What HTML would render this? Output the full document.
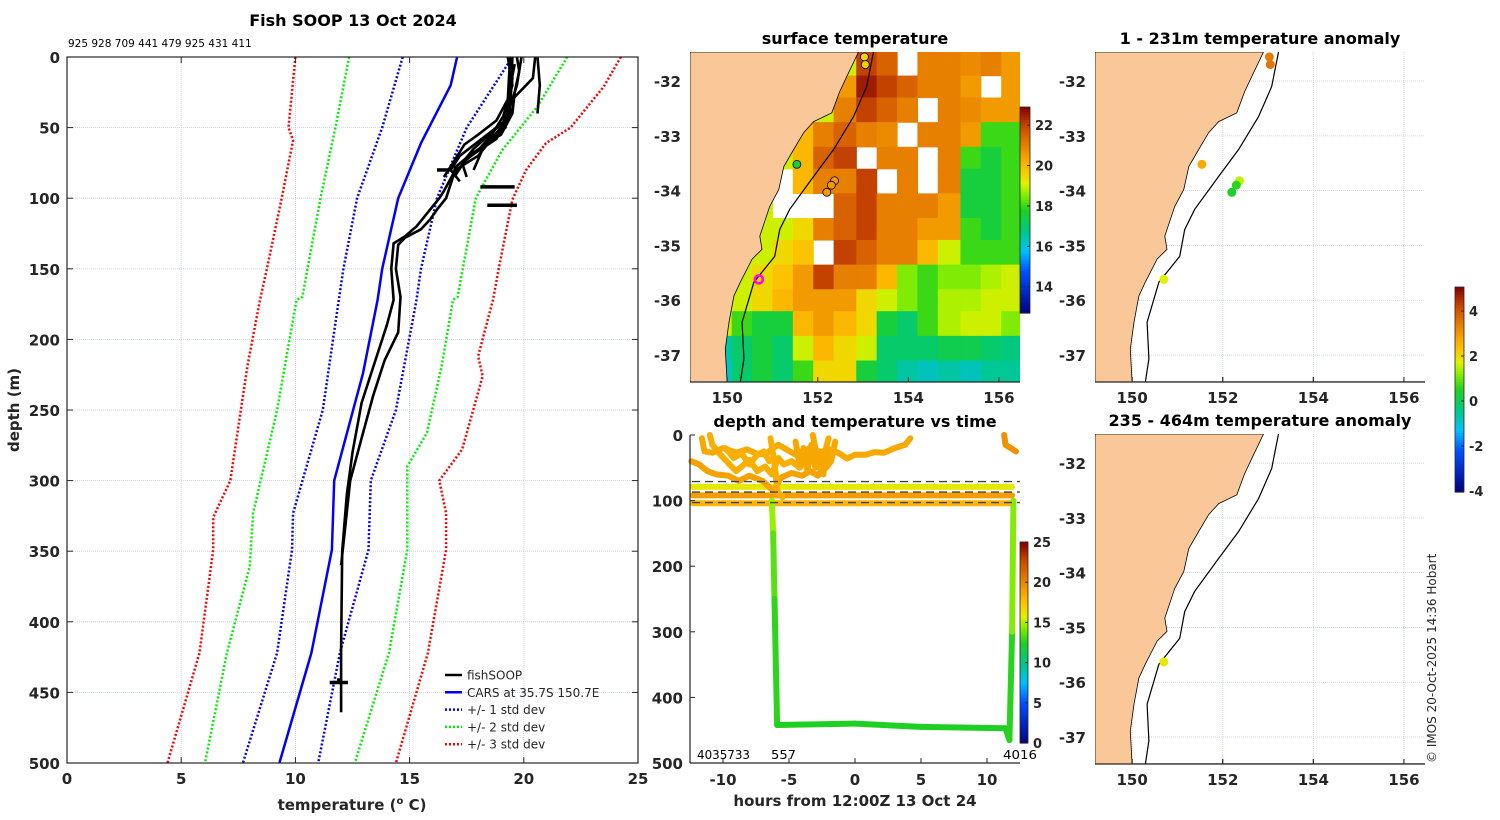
<!DOCTYPE html>
<html><head><meta charset="utf-8"><style>
body{margin:0;background:#fff}
svg{display:block;font-family:"DejaVu Sans","Liberation Sans",sans-serif}
.t{font-weight:bold;font-size:16px}
.tk{font-weight:bold;font-size:15px;fill:#262626}
</style></head><body>
<svg id="fig" width="1500" height="820" viewBox="0 0 1500 820" xmlns="http://www.w3.org/2000/svg">
<g id="g"></g>
</svg>
<script>
// ---------- DATA ----------
const carsT=[17.08,16.8,15.5,14.5,13.8,13.6,12.96,11.7,11.6,10.7,9.3];
const carsD=[0,20,61,100,150,172,224,300,349,422,500];
const sd1LoT=[14.7,13.8,12.7,12.1,11.9,11.2,9.9,9.85,9.2,7.7];
const sd1LoD=[0,50,100,150,172,250,323,349,422,500];
const sd1HiT=[19.5,17.5,16.2,15.5,15.3,14.4,13.3,13.2,11.95,11.0];
const sd1HiD=[0,50,100,150,172,250,300,349,422,500];
const sd2LoT=[12.35,11.75,11.1,10.3,10.05,9.2,8.15,8.0,7.0,6.04];
const sd2LoD=[0,50,100,170,172,250,323,361,422,500];
const sd2HiT=[21.9,20.6,19.05,17.9,17.1,16.9,16.4,15.76,14.9,14.9,14.1,12.6];
const sd2HiD=[0,35,66,100,170,172,219,266,290,349,422,500];
const sd3LoT=[10.0,9.7,9.9,9.4,8.75,8.45,7.9,7.15,6.4,6.4,5.8,4.4];
const sd3LoD=[0,50,59,100,150,172,219,300,326,349,422,500];
const sd3HiT=[24.25,23.5,22.05,20.97,20.1,19.5,18.9,18.65,18.0,18.2,17.3,16.3,16.6,16.6,15.8,14.4];
const sd3HiD=[0,21,50,61,80,101,150,172,212,226,278,300,323,349,422,500];
const deep1T=[19.4,19.3,19.2,18.5,18.0,17.0,16.5,16.3,15.8,15.3,14.8,14.3,14.2,14.3,14.0,13.5,12.9,12.5,12.25,12.05,12.0,12.0];
const deep1D=[0,30,50,60,70,80,95,100,110,120,127,132,150,172,190,215,245,280,310,350,420,464];
const deep2T=[19.5,19.4,18.8,17.5,16.9,16.6,16.2,15.9,15.5,14.8,14.5,14.4,14.6,14.5,13.9,13.4,12.9,12.4,12.1,12.0];
const deep2D=[0,40,58,72,85,100,108,115,122,128,133,150,170,195,215,240,270,300,345,360];
const sh1T=[19.7,19.8,19.6,19.5,19.0,18.3,17.6,17.0,16.8], sh1D=[0,10,25,40,55,62,70,78,90];
const sh2T=[19.4,19.5,19.4,19.2,18.5,17.8,17.3,17.5], sh2D=[0,15,30,45,55,65,75,85];
const sh3T=[19.6,19.3,18.8,18.0,17.4,16.9,16.5], sh3D=[5,30,45,55,62,75,85];
const sh4T=[20.5,20.4,19.5,19.0,18.2,17.8], sh4D=[0,15,30,50,65,80];
const sh5T=[20.6,20.7,20.6], sh5D=[0,20,40];
const sh6T=[19.9,19.7,19.2,18.0,17.2,16.8,17.2], sh6D=[0,20,45,60,70,80,88];
const sh7T=[19.3,19.5,19.1,18.6,18.0,17.4,17.0], sh7D=[0,20,42,55,66,74,84];
const segT0=[18.1,18.4,16.2], segT1=[19.6,19.7,16.8], segD=[92,105,80];
// time panel
const trAh=[-11.6,-11.4,-10.8,-10,-9,-8.2,-7.5,-6.8,-6.2,-5.8,-5.2,-4.5,-3.8,-3.2,-2.8,-2.4,-1.8,-1.2,-0.6,0,0.8,1.5,2.2,3,3.8,4.2];
const trAd=[5,25,27,20,27,22,28,30,20,15,22,30,27,15,35,25,22,28,36,30,30,26,27,20,15,5];
const trBh=[-11,-10.8,-10.2,-9.5,-9,-8.4,-8,-7.4,-6.8,-6.3,-5.8,-5.4,-4.8,-4.2,-3.5,-2.8,-2.2,-2];
const trBd=[0,15,30,45,55,45,38,55,48,60,35,45,40,50,35,45,20,5];
const trCh=[-12.4,-11.8,-11.2,-10.5,-9.6,-8.8,-8,-7,-6.2,-5.6,-4.8,-4,-3.4,-2.8,-2.2,-1.8];
const trCd=[40,45,55,60,62,70,62,70,85,65,58,62,55,62,42,30];
const trDh=[-6.4,-6.2,-6,-5.9,-5.5], trDd=[5,30,60,85,95];
const trEh=[-3.2,-3,-2.8,-2.5,-2.2,-1.8,-1.5], trEd=[0,20,40,55,50,40,10];
const trFh=[11.3,11.4,11.8,12.2], trFd=[0,15,20,25];
const trGh=[-4.5,-4.2,-3.9,-3.6,-3.3,-3.0,-2.7,-2.4,-2.1], trGd=[10,45,20,55,15,50,25,60,20];
const trHh=[-9.8,-9.2,-8.6,-8,-7.4,-6.9,-6.5], trHd=[20,35,28,45,30,25,40];
const bandD=[79,92,104], bandTemp=[16,19,18];
const dashD=[71,87,103];
const deepH=[-6.3,-6.2,-6.1,-5.9,0,5,11.4,11.7,11.9,12.0], deepD=[100,150,250,442,440,445,447,465,300,100];
const deepTemp=[15.2,14,13,12.5,12.4,12.4,12.4,12.3,13,15.5];
// SST grid (north->south rows, west->east cols), 0 = cloud
const sstLon=[149.4,149.9,150.3,150.8,151.2,151.7,152.1,152.6,153.1,153.5,154.0,154.4,154.9,155.4,155.8,156.3];
const sstLat=[-31.7,-32.1,-32.5,-33.0,-33.4,-33.8,-34.3,-34.7,-35.1,-35.6,-36.0,-36.4,-36.9,-37.3];
const sstVal=[
[19,19,19,19,19,19,19,19,22,21.5,0,21,21,20.8,21,20.5],
[19,19,19,19,19,19,19,20.5,22.5,22,21.5,21,21,20.5,0,20.5],
[19,19,19,19,19,19,19,21,22,21.5,21,0,21,20.8,20.5,20.5],
[19,19,19,19,19,20,21,21.5,21,20.8,0,21,21,20.5,18,18],
[19,19,19,19,19,20,21.5,22,0,21,21,0,21,18,17.5,18],
[19,19,19,19,0,20,21,21,22,0,21,0,21,17.5,17.5,18],
[19,19,19,19,0,0,0,21.5,22,21,21,21,20.5,17.5,17.5,18],
[19,19,19,19,19,19.5,21,21.5,22,21,21,20.5,20.5,18,17.5,18],
[19,19,19,19,19.5,19.8,0,22,21.5,21,21,20,19,18,18,18],
[19,19,19,19.5,19.8,20.5,22,21,21,20,18.5,18,18.5,18.5,18.8,19],
[19,19,19,19.5,20,20.5,20.5,20.5,19.5,19,18.5,18,18.8,18.8,19,19],
[19,19,18,17.5,17.5,20,20.5,20,19.5,17.5,17,18,18.8,19,19,18.5],
[19,16.5,17,17.5,17,19,20,19.5,19,17,17,17,17.3,17.3,17,16.8],
[19,16.2,17,17.5,17,18,19.5,19.5,17.5,17,16.5,16.3,16.5,16.3,16.6,16.6]];
const coastLon=[152.9,152.64,152.48,152.31,151.91,151.69,151.47,151.25,151.14,150.94,150.72,150.77,150.55,150.29,150.15,150.04,149.96,150.0];
const coastLat=[-31.47,-31.92,-32.2,-32.58,-32.74,-32.94,-33.25,-33.56,-33.98,-34.29,-34.83,-35.07,-35.25,-35.67,-35.92,-36.4,-36.89,-37.5];
const shelfLon=[153.23,153.08,152.79,152.35,151.91,151.38,151.16,151.05,150.59,150.33,150.37,150.29];
const shelfLat=[-31.47,-32.1,-32.65,-33.25,-33.74,-34.34,-34.71,-35.2,-35.67,-36.4,-37.07,-37.5];
const stLon=[153.03,153.05,151.54,152.37,152.3,152.2,150.7];
const stLat=[-31.56,-31.7,-33.52,-33.82,-33.9,-34.03,-35.62];
const stSST=[19.5,19.6,17.5,20.5,20.5,20.5,19];
const anomUp=[3.4,3.5,2.7,1.5,0.6,0.4,1.7];
const anomLoLon=[150.7], anomLoLat=[-35.63], anomLo=[1.8];
const lonTicks=[150,152,154,156], latTicks=[-32,-33,-34,-35,-36,-37];

// ---------- helpers ----------
const NS="http://www.w3.org/2000/svg", G=document.getElementById('g');
function mk(tag,at,parent,txt){const e=document.createElementNS(NS,tag);for(const k in at)e.setAttribute(k,at[k]);if(txt!==undefined)e.textContent=txt;(parent||G).appendChild(e);return e;}
const stops=[[0,[0,0,128]],[0.2,[0,80,255]],[0.3,[0,192,255]],[0.4,[0,200,128]],[0.5,[32,208,32]],[0.58,[144,240,0]],[0.63,[225,240,0]],[0.7,[255,192,0]],[0.8,[235,135,0]],[0.9,[205,75,0]],[1,[128,0,0]]];
function cmap(f){f=Math.max(0,Math.min(1,f));for(let i=1;i<stops.length;i++){if(f<=stops[i][0]){const a=stops[i-1],b=stops[i],u=(f-a[0])/(b[0]-a[0]);return 'rgb('+a[1].map((v,j)=>Math.round(v+(b[1][j]-v)*u)).join(',')+')';}}return 'rgb(128,0,0)';}
function pts(xs,ys,fx,fy){return xs.map((v,i)=>fx(v).toFixed(1)+','+fy(ys[i]).toFixed(1)).join(' ');}
function edges(c,lo,hi){const e=[lo];for(let i=1;i<c.length;i++)e.push((c[i-1]+c[i])/2);e.push(hi);return e;}

// ---------- LEFT PROFILE PANEL ----------
const L={x0:67,x1:638,y0:57,y1:763};
const tx=t=>L.x0+t*(L.x1-L.x0)/25, dy=d=>L.y0+d*(L.y1-L.y0)/500;
const lp=mk('g',{});


for(let t=5;t<25;t+=5){const l=mk('line',{x1:tx(t),x2:tx(t),y1:L.y0,y2:L.y1,stroke:'#c0c8f0','stroke-width':0.8,'stroke-dasharray':'1 1'},lp);}
for(let d=50;d<500;d+=50){const l=mk('line',{x1:L.x0,x2:L.x1,y1:dy(d),y2:dy(d),stroke:'#c0c8f0','stroke-width':0.8,'stroke-dasharray':'1 1'},lp);}
function dline(ts,ds,col,name,dotted,w){const p=mk('polyline',{points:pts(ts,ds,tx,dy),fill:'none',stroke:col,'stroke-width':w||2.5,'stroke-dasharray':dotted?'2 2':'none','stroke-linejoin':'round'},lp);}
dline(sd3LoT,sd3LoD,'#ff0000','std3-lower',1);dline(sd3HiT,sd3HiD,'#ff0000','std3-upper',1);
dline(sd2LoT,sd2LoD,'#00ee00','std2-lower',1);dline(sd2HiT,sd2HiD,'#00ee00','std2-upper',1);
dline(sd1LoT,sd1LoD,'#0000ff','std1-lower',1);dline(sd1HiT,sd1HiD,'#0000ff','std1-upper',1);
dline(carsT,carsD,'#0000ff','cars-mean-profile',0,2.5);
[[deep1T,deep1D],[deep2T,deep2D],[sh1T,sh1D],[sh2T,sh2D],[sh3T,sh3D],[sh4T,sh4D],[sh5T,sh5D],[sh6T,sh6D],[sh7T,sh7D]].forEach(p=>dline(p[0],p[1],'#000','fishsoop-profile',0,2.6));
segD.forEach((d,i)=>{const l=mk('line',{x1:tx(segT0[i]),x2:tx(segT1[i]),y1:dy(d),y2:dy(d),stroke:'#000','stroke-width':3.5},lp);});
const mkx=mk('path',{d:`M${tx(11.5)} ${dy(443)}h${tx(12.3)-tx(11.5)}M${tx(11.9)} ${dy(440)}v6`,stroke:'#000','stroke-width':3.5},lp);

const lb=mk('rect',{x:L.x0,y:L.y0,width:L.x1-L.x0,height:L.y1-L.y0,fill:'none',stroke:'#262626','stroke-width':1.2},lp);

for(let t=0;t<=25;t+=5){mk('line',{x1:tx(t),x2:tx(t),y1:L.y1,y2:L.y1-6,stroke:'#262626'},lp);mk('line',{x1:tx(t),x2:tx(t),y1:L.y0,y2:L.y0+6,stroke:'#262626'},lp);
 const e=mk('text',{x:tx(t),y:784,'text-anchor':'middle',class:'tk'},lp,String(t));}
for(let d=0;d<=500;d+=50){mk('line',{x1:L.x0,x2:L.x0+6,y1:dy(d),y2:dy(d),stroke:'#262626'},lp);mk('line',{x1:L.x1,x2:L.x1-6,y1:dy(d),y2:dy(d),stroke:'#262626'},lp);
 const e=mk('text',{x:60,y:dy(d)+6,'text-anchor':'end',class:'tk'},lp,String(d));}
let e;
e=mk('text',{x:353,y:26,'text-anchor':'middle',class:'t'},lp,'Fish SOOP 13 Oct 2024');
e=mk('text',{x:68,y:47,'font-size':'10.5px'},lp,'925 928 709 441 479 925 431 411');
e=mk('text',{x:19,y:410,'text-anchor':'middle',class:'tk',transform:'rotate(-90 19 410)'},lp,'depth (m)');
e=mk('text',{x:352,y:810,'text-anchor':'middle',class:'tk'},lp);
e.innerHTML='temperature (<tspan dy="-6" font-size="10">o</tspan><tspan dy="6"> C)</tspan>';
const leg=[['fishSOOP','#000',0],['CARS at 35.7S 150.7E','#0000ff',0],['+/- 1 std dev','#0000ff',1],['+/- 2 std dev','#00ee00',1],['+/- 3 std dev','#ff0000',1]];
leg.forEach((l,i)=>{const y=675+i*17.3;const g=mk('g',{},lp);
 mk('line',{x1:445,x2:462,y1:y,y2:y,stroke:l[1],'stroke-width':2.5,'stroke-dasharray':l[2]?'2 2':'none'},g);
 mk('text',{x:467,y:y+4.5,'font-size':'12px',fill:'#262626'},g,l[0]);});

// ---------- MAP helpers ----------
function mapAxes(x0,y0){const m={x0:x0,y0:y0,w:330,h:330};
 m.fx=lon=>x0+(lon-149.18)*45.3; m.fy=lat=>y0+(-31.47-lat)*54.8; return m;}
function drawLand(m,g){const xs=coastLon.concat([149.18,149.18]),ys=coastLat.concat([-37.5,-31.47]);
 const p=mk('polygon',{points:pts(xs,ys,m.fx,m.fy),fill:'#fac898',stroke:'#000','stroke-width':0.8},g);
 const s=mk('polyline',{points:pts(shelfLon,shelfLat,m.fx,m.fy),fill:'none',stroke:'#000','stroke-width':1.2},g);}
function mapFrame(m,g,labx,laby,grid){
 if(grid){lonTicks.forEach(l=>mk('line',{x1:m.fx(l),x2:m.fx(l),y1:m.y0,y2:m.y0+m.h,stroke:'#c8cce8','stroke-width':0.8,'stroke-dasharray':'1 1'},g));
  latTicks.forEach(l=>mk('line',{x1:m.x0,x2:m.x0+m.w,y1:m.fy(l),y2:m.fy(l),stroke:'#c8cce8','stroke-width':0.8,'stroke-dasharray':'1 1'},g));}
 mk('line',{x1:m.x0,x2:m.x0+m.w,y1:m.y0+m.h,y2:m.y0+m.h,stroke:'#262626','stroke-width':1.2},g);
 lonTicks.forEach(l=>{mk('line',{x1:m.fx(l),x2:m.fx(l),y1:m.y0+m.h,y2:m.y0+m.h-5,stroke:'#262626'},g);
  const t=mk('text',{x:m.fx(l),y:laby,'text-anchor':'middle',class:'tk'},g,String(l));});
 latTicks.forEach(l=>{const t=mk('text',{x:labx,y:m.fy(l)+6,'text-anchor':'end',class:'tk'},g,String(l));});}
function colorbar(x,y0,y1,w,vmin,vmax,ticks,name){const g=mk('g',{});
 const n=80;for(let i=0;i<n;i++){mk('rect',{x:x,y:y0+(y1-y0)*i/n,width:w,height:(y1-y0)/n+0.6,fill:cmap(1-(i+0.5)/n)},g);}
 mk('rect',{x:x,y:y0,width:w,height:y1-y0,fill:'none',stroke:'#262626','stroke-width':0.8},g);
 ticks.forEach(t=>{const y=y1-(t-vmin)/(vmax-vmin)*(y1-y0);mk('line',{x1:x+w-3,x2:x+w,y1:y,y2:y,stroke:'#262626'},g);
  const e=mk('text',{x:x+w+5,y:y+5,class:'tk'},g,String(t));e.style.fontSize='13px';});}

// ---------- SST MAP ----------
const M1=mapAxes(690,52);const g1=mk('g',{});
const cp1=mk('clipPath',{id:'c1'},g1);mk('rect',{x:690,y:52,width:330,height:330},cp1);
const gg=mk('g',{'clip-path':'url(#c1)'},g1);
const sstMin=12.7,sstMax=22.9;
const lonE=edges(sstLon,149.18,156.52), latE=edges(sstLat,-31.47,-37.5);
sstVal.forEach((row,r)=>row.forEach((v,c)=>{if(!v)return;
 const x=M1.fx(lonE[c]),y=M1.fy(latE[r]);
 const cell=mk('rect',{x:x,y:y,width:M1.fx(lonE[c+1])-x+0.6,height:M1.fy(latE[r+1])-y+0.6,fill:cmap((v-sstMin)/(sstMax-sstMin))},gg);
 }));
drawLand(M1,gg);
stLon.forEach((lo,i)=>{const c=mk('circle',{cx:M1.fx(lo),cy:M1.fy(stLat[i]),r:4,fill:i==6?'none':cmap((stSST[i]-sstMin)/(sstMax-sstMin)),stroke:i==6?'#ff00ff':'#000','stroke-width':i==6?2.5:0.8},gg);
 });
mapFrame(M1,g1,681,403,false);
e=mk('text',{x:855,y:44,'text-anchor':'middle',class:'t'},g1,'surface temperature');
colorbar(1020,107,313,10,sstMin,sstMax,[14,16,18,20,22],'sst-colorbar');

// ---------- ANOMALY MAPS ----------
const aMin=-4.05,aMax=5.07;
function anomMap(x0,y0,lons,lats,vals,title,name,id){const m=mapAxes(x0,y0);const g=mk('g',{});
 const cp=mk('clipPath',{id:id},g);mk('rect',{x:x0,y:y0,width:330,height:330},cp);
 const gi=mk('g',{'clip-path':'url(#'+id+')'},g);
 mapFrame(m,gi,0,0,true);gi.querySelectorAll('text').forEach(t=>t.remove());
 drawLand(m,gi);
 lons.forEach((lo,i)=>{const c=mk('circle',{cx:m.fx(lo),cy:m.fy(lats[i]),r:4.5,fill:cmap((vals[i]-aMin)/(aMax-aMin))},gi);});
 mapFrame(m,g,1086,y0+351,false);
 const t=mk('text',{x:x0+165,y:y0-8,'text-anchor':'middle',class:'t'},g,title);}
anomMap(1095,52,stLon,stLat,anomUp,'1 - 231m temperature anomaly','upper-anomaly-map','c2');
anomMap(1095,434,anomLoLon,anomLoLat,anomLo,'235 - 464m temperature anomaly','lower-anomaly-map','c3');
colorbar(1455,287,492,9,aMin,aMax,[-4,-2,0,2,4],'anomaly-colorbar');

// ---------- TIME PANEL ----------
const T={x0:690,x1:1020,y0:435,y1:763};
const hx=h=>855+h*13.2, tdy=d=>T.y0+d*0.656;
const gt=mk('g',{});
const tMin=0,tMax=25;
bandD.forEach((d,i)=>{const l=mk('line',{x1:hx(-12.3),x2:hx(11.9),y1:tdy(d),y2:tdy(d),stroke:cmap((bandTemp[i]-tMin)/(tMax-tMin)),'stroke-width':6,'stroke-linecap':'round'},gt);});
for(let i=1;i<deepH.length;i++){const l=mk('line',{x1:hx(deepH[i-1]),y1:tdy(deepD[i-1]),x2:hx(deepH[i]),y2:tdy(deepD[i]),stroke:cmap(((deepTemp[i-1]+deepTemp[i])/2-tMin)/(tMax-tMin)),'stroke-width':6,'stroke-linecap':'round'},gt);}
[[trCh,trCd,18.8],[trBh,trBd,18.3],[trAh,trAd,18.5],[trDh,trDd,18.3],[trEh,trEd,18.5],[trFh,trFd,19.5],[trGh,trGd,18.6],[trHh,trHd,18.2]].forEach(tr=>{
 const p=mk('polyline',{points:pts(tr[0],tr[1],hx,tdy),fill:'none',stroke:cmap((tr[2]-tMin)/(tMax-tMin)),'stroke-width':6,'stroke-linejoin':'round','stroke-linecap':'round'},gt);
 });
dashD.forEach(d=>{const l=mk('line',{x1:T.x0+2,x2:T.x1,y1:tdy(d),y2:tdy(d),stroke:'#444','stroke-width':1.3,'stroke-dasharray':'8 5'},gt);});
mk('line',{x1:T.x0,x2:T.x0,y1:T.y0,y2:T.y1,stroke:'#262626','stroke-width':1.2},gt);
mk('line',{x1:T.x0,x2:T.x1,y1:T.y1,y2:T.y1,stroke:'#262626','stroke-width':1.2},gt);
[-10,-5,0,5,10].forEach(h=>{mk('line',{x1:hx(h),x2:hx(h),y1:T.y1,y2:T.y1-5,stroke:'#262626'},gt);const t=mk('text',{x:hx(h),y:785,'text-anchor':'middle',class:'tk'},gt,String(h));});
[0,100,200,300,400,500].forEach(d=>{mk('line',{x1:T.x0,x2:T.x0+5,y1:tdy(d),y2:tdy(d),stroke:'#262626'},gt);const t=mk('text',{x:683,y:tdy(d)+6,'text-anchor':'end',class:'tk'},gt,String(d));});
e=mk('text',{x:855,y:427,'text-anchor':'middle',class:'t'},gt,'depth and temperature vs time');
e=mk('text',{x:855,y:806,'text-anchor':'middle',class:'tk'},gt,'hours from 12:00Z 13 Oct 24');
[['4035733',697,53],['557',771,25],['4016',1003,34]].forEach(a=>{const t=mk('text',{x:a[1],y:759,'font-size':'12.5px',textLength:a[2],lengthAdjust:'spacingAndGlyphs'},gt,a[0]);});
colorbar(1020,542,743,8,tMin,tMax,[0,5,10,15,20,25],'time-colorbar');

e=mk('text',{x:1436,y:763,'font-size':'12px',fill:'#262626',transform:'rotate(-90 1436 763)'},G,'© IMOS 20-Oct-2025 14:36 Hobart');

</script>
</body></html>
